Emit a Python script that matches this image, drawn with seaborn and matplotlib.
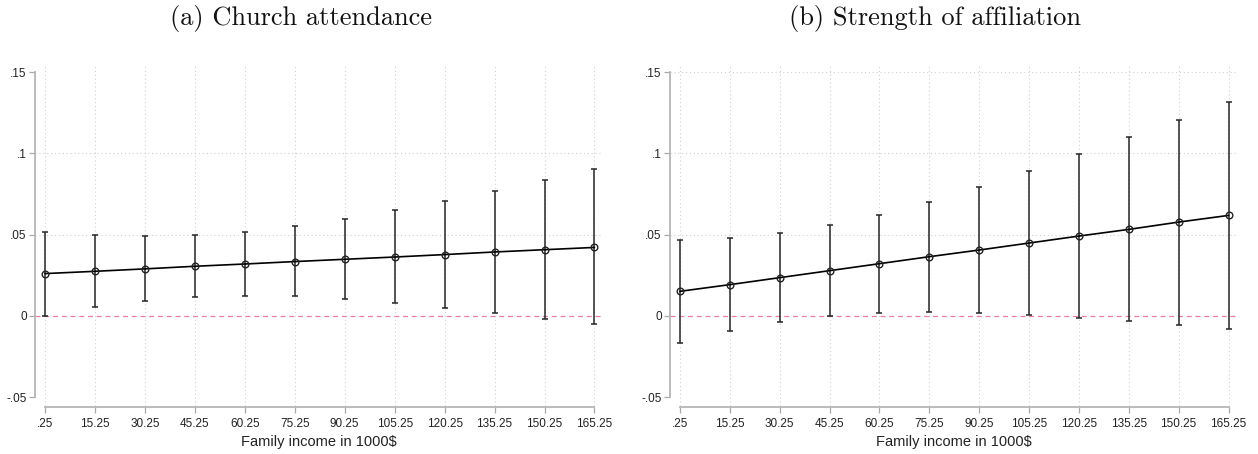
import numpy as np
import pandas as pd
import matplotlib
matplotlib.use("Agg")
import matplotlib.pyplot as plt
import seaborn as sns

income = [0.25, 15.25, 30.25, 45.25, 60.25, 75.25, 90.25, 105.25, 120.25, 135.25, 150.25, 165.25]
xtick_labels = [".25", "15.25", "30.25", "45.25", "60.25", "75.25", "90.25", "105.25",
                "120.25", "135.25", "150.25", "165.25"]
ytick_values = [-0.05, 0, 0.05, 0.1, 0.15]
ytick_labels = ["-.05", "0", ".05", ".1", ".15"]

attend_est = [0.0260, 0.0274, 0.0289, 0.0305, 0.0319, 0.0334, 0.0348, 0.0362, 0.0377, 0.0393, 0.0407, 0.0421]
attend_hi = [0.0514, 0.0499, 0.0489, 0.0495, 0.0514, 0.0550, 0.0596, 0.0649, 0.0708, 0.0770, 0.0835, 0.0901]
attend_lo = [0.0002, 0.0053, 0.0092, 0.0114, 0.0125, 0.0119, 0.0102, 0.0077, 0.0049, 0.0016, -0.0017, -0.0053]

affil_est = [0.0151, 0.0192, 0.0235, 0.0278, 0.0321, 0.0364, 0.0405, 0.0448, 0.0491, 0.0532, 0.0577, 0.0618]
affil_hi = [0.0467, 0.0477, 0.0507, 0.0557, 0.0620, 0.0702, 0.0794, 0.0893, 0.0993, 0.1101, 0.1208, 0.1316]
affil_lo = [-0.0168, -0.0095, -0.0037, 0.0000, 0.0020, 0.0025, 0.0018, 0.0004, -0.0012, -0.0033, -0.0058, -0.0080]

titles = ["(a) Church attendance", "(b) Strength of affiliation"]
xlabel = "Family income in 1000$"

sns.set_style("white")
plt.rcParams["font.family"] = ["Liberation Sans", "DejaVu Sans"]

W, H = 1258, 454
fig = plt.figure(figsize=(W / 100, H / 100), dpi=100)

# axes rectangles in pixels: left, top, right, bottom
rects = [(35, 64, 603, 406), (670, 64, 1237, 406)]
title_x = [301, 935]
panels = [(attend_est, attend_lo, attend_hi), (affil_est, affil_lo, affil_hi)]
hidden_grid = [[4], []]  # hide .15 gridline on left panel

for i, ((l, t, r, b), (est, lo, hi)) in enumerate(zip(rects, panels)):
    ax = fig.add_axes([l / W, 1 - b / H, (r - l) / W, (b - t) / H])
    df = pd.DataFrame({"income": income, "est": est, "lo": lo, "hi": hi})
    pxu = (r - l - 10 - 8.5) / 165.0
    ax.set_xlim(0.25 - 10 / pxu, 165.25 + 8.5 / pxu)
    ax.set_ylim(-0.0555, 0.155)

    ax.axhline(0, color="#e57fa8", lw=0.9, ls=(0, (4, 3)), zorder=1)
    ax.errorbar(df["income"], df["est"],
                yerr=[np.array(df["est"]) - np.array(df["lo"]), np.array(df["hi"]) - np.array(df["est"])],
                fmt="none", ecolor="#262626", elinewidth=1.1, capsize=2, capthick=1.1, zorder=3)
    sns.lineplot(data=df, x="income", y="est", ax=ax, color="black", lw=1.2,
                 marker="o", markersize=4.8, markerfacecolor="none",
                 markeredgecolor="#222222", markeredgewidth=1.0, zorder=4)

    ax.set_xticks(income)
    ax.set_xticklabels(xtick_labels)
    ax.set_yticks(ytick_values)
    ax.set_yticklabels(ytick_labels)
    ax.tick_params(axis="both", bottom=True, left=True, length=4, width=0.9,
                   color="#a8a8a8", labelsize=8.5, labelcolor="#222222")
    ax.tick_params(axis="x", pad=3.5)
    ax.tick_params(axis="y", pad=2)

    ax.grid(True, ls=(0, (1, 2.5)), color="#d0d0d0", lw=0.8)
    for j, gl in enumerate(ax.get_ygridlines()):
        if j in hidden_grid[i] or ytick_values[j] in (0, -0.05):
            gl.set_visible(False)
    ax.set_axisbelow(True)

    for s in ["top", "right"]:
        ax.spines[s].set_visible(False)
    for s in ["left", "bottom"]:
        ax.spines[s].set_color("#b5b5b5")
        ax.spines[s].set_linewidth(1.3)
    ax.spines["left"].set_bounds(-0.05, 0.15)
    ax.spines["bottom"].set_bounds(0.25, 165.25)
    ax.spines["bottom"].set_position(("outward", 1))

    ax.set_xlabel(xlabel, fontsize=10.5, color="#222222", labelpad=4)
    ax.set_ylabel("")

    fig.text(title_x[i] / W, 1 - 19 / H, titles[i], family="cmr10", fontsize=19,
             ha="center", va="center", color="#111111")

fig.savefig("out.png", dpi=100)
